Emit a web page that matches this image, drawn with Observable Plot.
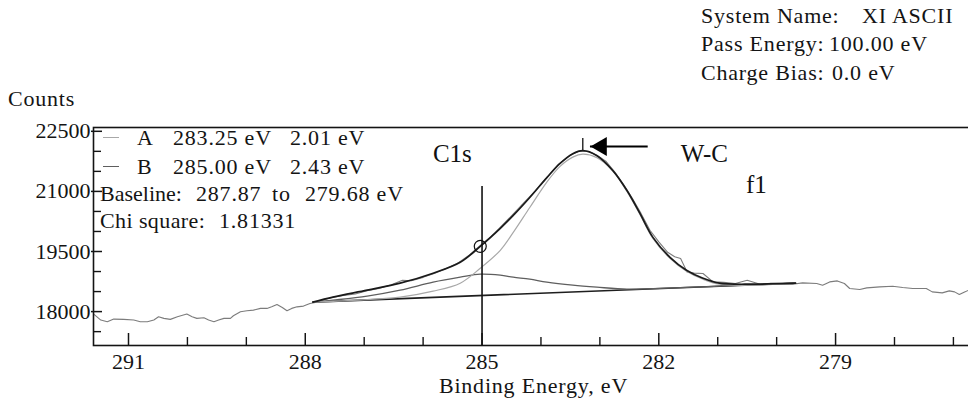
<!DOCTYPE html>
<html><head><meta charset="utf-8">
<script src="https://cdn.jsdelivr.net/npm/d3@7"></script>
<script src="https://cdn.jsdelivr.net/npm/@observablehq/plot@0.6"></script>
<style>
html,body{margin:0;padding:0;background:#fff;}
#wrap{position:relative;width:968px;height:405px;overflow:hidden;font-family:"Liberation Serif","DejaVu Serif",serif;color:#141414;}
#wrap svg{position:absolute;left:0;top:0;}
.t{position:absolute;font-size:22px;line-height:22px;white-space:pre;letter-spacing:0.8px;}
.sw{position:absolute;height:1.6px;width:16px;}
</style></head><body><div id="wrap"></div>
<script>
// ---- axis ranges & ticks ----
const energyRange = [291.594, 276.744];
const countsRange = [17154, 22595];
const xMajorTicks = [291, 288, 285, 282, 279];
const xMinorTicks = [290, 289, 287, 286, 284, 283, 281, 280, 278, 277];
const yMajorTicks = [18000, 19500, 21000, 22500];
const yMinorTicks = [17500, 18500, 19000, 20000, 20500, 21500, 22000];

// ---- raw spectrum ----
const rawEnergy = [291.59,291.47,291.36,291.25,291.08,290.91,290.80,290.68,290.57,290.49,290.40,290.29,290.17,290.01,289.92,289.84,289.72,289.64,289.55,289.47,289.38,289.27,289.22,289.10,288.99,288.88,288.76,288.65,288.57,288.48,288.39,288.31,288.23,288.14,288.03,287.92,287.83,287.75,287.55,287.35,287.15,286.95,286.75,286.55,286.35,286.2,286.0,285.8,285.6,285.4,285.2,285.03,284.85,284.7,284.5,284.3,284.1,283.9,283.7,283.5,283.35,283.2,283.05,282.9,282.75,282.6,282.45,282.3,282.15,282.0,281.85,281.73,281.63,281.52,281.4,281.25,281.08,280.9,280.7,280.5,280.28,280.1,279.95,279.73,279.56,279.32,279.22,279.10,278.97,278.85,278.76,278.59,278.47,278.25,278.03,277.86,277.69,277.46,277.36,277.19,277.07,276.98,276.90,276.81,276.74];
const rawCounts = [17938,17789,17746,17813,17806,17789,17746,17746,17789,17871,17831,17806,17871,17938,17871,17831,17846,17789,17746,17789,17831,17831,17896,17995,18020,18037,18080,18080,18119,18179,18104,18020,18080,18119,18137,18204,18229,18265,18350,18400,18440,18520,18580,18665,18780,18770,18855,18955,19080,19220,19425,19650,19870,20090,20390,20700,21010,21345,21680,21905,22010,22000,21905,21755,21490,21170,20830,20445,20030,19740,19480,19370,19323,18990,18960,18950,18741,18730,18700,18783,18684,18705,18701,18684,18716,18701,18659,18741,18766,18701,18577,18552,18592,18617,18634,18602,18577,18577,18492,18468,18517,18492,18428,18492,18535];

// ---- fit ----
const baselineEnergy = [287.87, 279.68];
const baselineCounts = [18236, 18709];
const fitEnergy = [287.87,287.53,286.95,286.39,285.83,285.37,285.03,284.69,284.47,284.19,283.90,283.68,283.46,283.29,283.05,282.78,282.54,282.32,282.10,281.81,281.53,281.25,280.97,280.41,279.68];
const envelopeCounts = [18236,18361,18535,18709,18958,19231,19629,20080,20400,20848,21345,21693,21942,22017,21892,21519,21022,20450,19853,19355,19032,18833,18709,18684,18709];
const peakACounts = [18236,18254,18298,18361,18510,18709,19082,19530,19977,20599,21233,21619,21855,21929,21842,21519,20997,20425,19828,19330,19007,18808,18684,18659,18709];
const peakBEnergy = [287.87,287.53,286.95,286.39,285.83,285.37,285.03,284.69,284.47,284.19,283.90,283.46,283.05,282.54,282.10,281.53,280.97,280.41,279.68];
const peakBCounts = [18236,18286,18386,18535,18734,18858,18933,18908,18858,18808,18734,18659,18609,18560,18575,18605,18636,18667,18709];

// ---- legend / info text ----
const componentNames = ["A", "B"];
const componentPositions = [283.25, 285.00];
const componentFWHM = [2.01, 2.43];
const chiSquare = "1.81331";
const infoLabels = ["System Name:", "Pass Energy:", "Charge Bias:"];
const infoValues = ["XI ASCII", "100.00 eV", "0.0 eV"];

// ---- annotations ----
const c1sLine = [{energy: 285.0, top: 21122}];
const c1sMarker = [{energy: 285.03, counts: 19629}];
const peakMarker = [{energy: 283.29, from: 22021, to: 22320}];
const arrowSpec = [{counts: 22121, tail: 282.18, tip: 283.16}];
const annotations = [
  {label: "C1s", energy: 285.504, counts: 21946},
  {label: "W-C", energy: 281.226, counts: 21946},
  {label: "f1", energy: 280.343, counts: 21172}
];

const zip = (xs, ys) => xs.map((x, i) => ({x, y: ys[i]}));
const FRAME_H = 405 - 127 - 60, FRAME_W = 968 - 93;

const chart = Plot.plot({
  width: 968, height: 405,
  marginTop: 127, marginRight: 0, marginBottom: 60, marginLeft: 93,
  style: {fontFamily: '"Liberation Serif","DejaVu Serif",serif', fontSize: "22px", color: "#141414", background: "#fff"},
  x: {domain: energyRange},
  y: {domain: countsRange},
  marks: [
    Plot.line(zip(rawEnergy, rawCounts), {x: "x", y: "y", stroke: "#7c7c7c", strokeWidth: 1.1}),
    Plot.line(zip(baselineEnergy, baselineCounts), {x: "x", y: "y", stroke: "#1e1e1e", strokeWidth: 1.6}),
    Plot.line(zip(peakBEnergy, peakBCounts), {x: "x", y: "y", stroke: "#5e5e5e", strokeWidth: 1.3, curve: "catmull-rom"}),
    Plot.line(zip(fitEnergy, peakACounts), {x: "x", y: "y", stroke: "#a8a8a8", strokeWidth: 1.2, curve: "catmull-rom"}),
    Plot.line(zip(fitEnergy, envelopeCounts), {x: "x", y: "y", stroke: "#1a1a1a", strokeWidth: 1.7, curve: "catmull-rom"}),
    Plot.frame({stroke: "#141414", strokeWidth: 1.6, insetRight: -6}),
    Plot.tickX(xMajorTicks, {x: d => d, insetTop: FRAME_H - 12, stroke: "#141414", strokeWidth: 1.5}),
    Plot.tickX(xMinorTicks, {x: d => d, insetTop: FRAME_H - 8, stroke: "#141414", strokeWidth: 1.4}),
    Plot.tickY(yMajorTicks, {y: d => d, insetLeft: -2, insetRight: FRAME_W - 9, stroke: "#141414", strokeWidth: 1.5}),
    Plot.tickY(yMinorTicks, {y: d => d, insetRight: FRAME_W - 8, stroke: "#141414", strokeWidth: 1.4}),
    Plot.axisX(xMajorTicks, {tickSize: 0, tickPadding: 8, label: null, tickFormat: "d"}),
    Plot.axisY(yMajorTicks, {tickSize: 0, tickPadding: 3, label: null, tickFormat: "d"}),
    Plot.ruleX(c1sLine, {x: "energy", y1: "top", y2: countsRange[0], stroke: "#111", strokeWidth: 1.6}),
    Plot.dot(c1sMarker, {x: "energy", y: "counts", r: 6, stroke: "#111", strokeWidth: 1.2, fill: "none"}),
    Plot.ruleX(peakMarker, {x: "energy", y1: "from", y2: "to", stroke: "#111", strokeWidth: 1.3}),
    Plot.ruleY(arrowSpec, {y: "counts", x1: "tail", x2: "tip", stroke: "#000", strokeWidth: 2.2}),
    Plot.dot(arrowSpec, {x: "tip", y: "counts", symbol: "triangle", r: 7, rotate: -90, dx: 10.9, fill: "#000", stroke: null}),
    Plot.text(annotations, {x: "energy", y: "counts", text: "label", fontSize: 25, fill: "#111"})
  ]
});

const wrap = document.getElementById("wrap");
wrap.appendChild(chart);

function addText(str, left, baseline, extra = {}) {
  const d = document.createElement("div");
  d.className = "t";
  d.textContent = str;
  d.style.left = left + "px";
  d.style.top = (baseline - 18.4) + "px";
  Object.assign(d.style, extra);
  wrap.appendChild(d);
  return d;
}
function addSwatch(color, left, y) {
  const d = document.createElement("div");
  d.className = "sw";
  d.style.left = left + "px";
  d.style.top = (y - 0.8) + "px";
  d.style.background = color;
  wrap.appendChild(d);
}

// header info
const infoBase = [23.3, 51.7, 80];
const infoValueX = [862, 829, 832];
infoLabels.forEach((s, i) => {
  addText(s, 701, infoBase[i]);
  addText(infoValues[i], infoValueX[i], infoBase[i]);
});
addText("Counts", 8, 106.7);
const xl = addText("Binding Energy, eV", 533.5, 393);
xl.style.transform = "translateX(-50%)";

// legend inside the plot
const rowBase = [145, 174, 201.7, 228.3];
const swatchColors = ["#a8a8a8", "#5e5e5e"];
componentNames.forEach((n, i) => {
  addSwatch(swatchColors[i], 103, rowBase[i] - 7.5);
  addText(n, 137, rowBase[i]);
  addText(componentPositions[i].toFixed(2) + " eV", 173, rowBase[i]);
  addText(componentFWHM[i].toFixed(2) + " eV", 290, rowBase[i]);
});
addText("Baseline:", 100, rowBase[2], {letterSpacing: "0px"});
addText(baselineEnergy[0].toFixed(2), 196, rowBase[2]);
addText("to", 272, rowBase[2]);
addText(baselineEnergy[1].toFixed(2) + " eV", 305, rowBase[2]);
addText("Chi square:", 100, rowBase[3], {letterSpacing: "0.4px"});
addText(chiSquare, 219, rowBase[3]);
</script></body></html>
